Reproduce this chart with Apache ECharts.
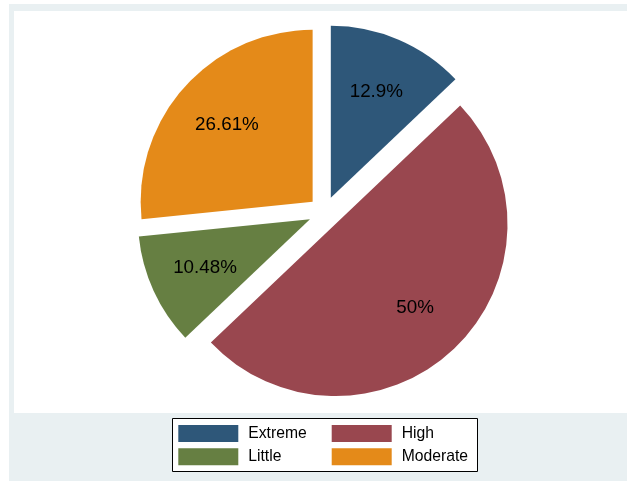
<!DOCTYPE html>
<html>
<head>
<meta charset="utf-8">
<script src="https://cdn.jsdelivr.net/npm/echarts@6/dist/echarts.min.js"></script>
<style>
  html, body { margin: 0; padding: 0; background: #ffffff; }
  #chart { width: 627px; height: 481px; }
</style>
</head>
<body>
<div id="chart"></div>
<script>
// Share of responses by level (percent)
const categories = ['Extreme', 'High', 'Little', 'Moderate'];
const shares = [12.9, 50, 10.48, 26.61];
const colors = ['#2E5779', '#99474F', '#667F42', '#E48A19'];
// legend columns, read top to bottom
const legendColumns = [['Extreme', 'Little'], ['High', 'Moderate']];

const PIE_CENTER = [324.5, 212.5];
const PIE_RADIUS = 172;
const EXPLODE = 16;

const sliceData = categories.map((name, i) => ({
  name: name,
  value: shares[i],
  selected: true,
  itemStyle: { color: colors[i] }
}));

const labelData = categories.map((name, i) => ({
  name: name,
  value: shares[i],
  selected: true
}));

const FONT = 'Liberation Sans, Arial, sans-serif';

function legendColumn(names, left) {
  return {
    data: names,
    left: left,
    top: 425,
    orient: 'vertical',
    padding: 0,
    itemGap: 6.3,
    itemWidth: 60,
    itemHeight: 17,
    icon: 'rect',
    selectedMode: false,
    z: 5,
    textStyle: {
      fontFamily: FONT,
      fontSize: 15.7,
      color: '#000000',
      padding: [0, 0, 0, 5]
    }
  };
}

const chart = echarts.init(document.getElementById('chart'), null, { renderer: 'canvas' });

chart.setOption({
  animation: false,
  backgroundColor: '#ffffff',
  graphic: [
    { type: 'rect', z: -10, shape: { x: 9, y: 4, width: 618, height: 477 }, style: { fill: '#E9F0F2' } },
    { type: 'rect', z: -9, shape: { x: 14, y: 11, width: 613, height: 402 }, style: { fill: '#ffffff' } },
    // legend frame
    { type: 'rect', z: 1, shape: { x: 172.5, y: 418.5, width: 305, height: 53 },
      style: { fill: '#ffffff', stroke: '#000000', lineWidth: 1 } }
  ],
  legend: [
    legendColumn(legendColumns[0], 178.3),
    legendColumn(legendColumns[1], 331.7)
  ],
  series: [
    {
      type: 'pie',
      center: PIE_CENTER,
      radius: PIE_RADIUS,
      startAngle: 90,
      clockwise: true,
      selectedMode: 'multiple',
      selectedOffset: EXPLODE,
      avoidLabelOverlap: false,
      label: { show: false },
      labelLine: { show: false },
      itemStyle: { borderWidth: 0 },
      emphasis: { disabled: true },
      select: { itemStyle: { borderWidth: 0 } },
      data: sliceData
    },
    {
      // transparent ring that carries the percentage labels further out along each slice
      type: 'pie',
      center: PIE_CENTER,
      radius: [53, PIE_RADIUS],
      startAngle: 90,
      clockwise: true,
      silent: true,
      selectedMode: 'multiple',
      selectedOffset: EXPLODE,
      avoidLabelOverlap: false,
      itemStyle: { color: 'rgba(0,0,0,0)', borderWidth: 0 },
      select: { itemStyle: { color: 'rgba(0,0,0,0)', borderWidth: 0 } },
      emphasis: { disabled: true },
      label: {
        show: true,
        position: 'inside',
        formatter: '{c}%',
        fontFamily: FONT,
        fontSize: 18.8,
        color: '#000000'
      },
      labelLine: { show: false },
      data: labelData
    }
  ]
});
</script>
</body>
</html>
